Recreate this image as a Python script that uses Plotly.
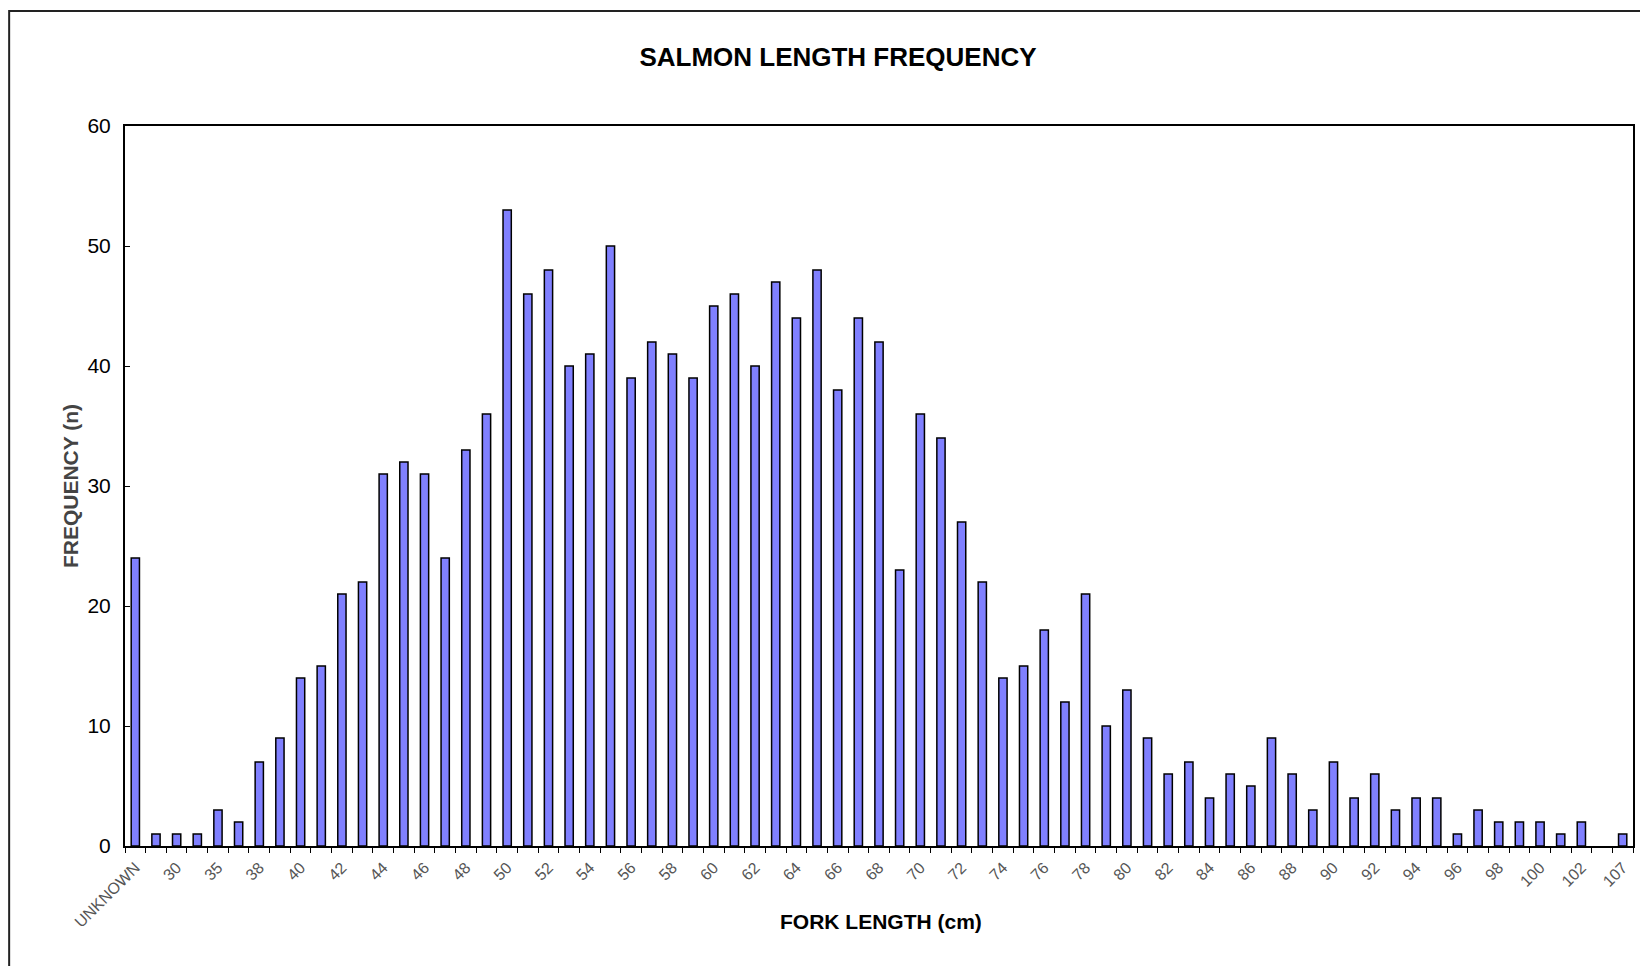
import plotly.graph_objects as go

# ---- data ----
categories = (["UNKNOWN", "25", "30", "33", "35", "37", "38", "39"]
              + [str(v) for v in range(40, 103)]
              + ["105", "107"])
frequency = [24, 1, 1, 1, 3, 2, 7, 9, 14, 15, 21, 22, 31, 32, 31, 24, 33, 36,
             53, 46, 48, 40, 41, 50, 39, 42, 41, 39, 45, 46, 40, 47, 44, 48,
             38, 44, 42, 23, 36, 34, 27, 22, 14, 15, 18, 12, 21, 10, 13, 9,
             6, 7, 4, 6, 5, 9, 6, 3, 7, 4, 6, 3, 4, 4, 1, 3, 2, 2, 2, 1, 2, 0, 1]
tick_labels = [c if i % 2 == 0 else "" for i, c in enumerate(categories)]
y_ticks = [0, 10, 20, 30, 40, 50, 60]

title_text = "SALMON LENGTH FREQUENCY"
x_title = "FORK LENGTH (cm)"
y_title = "FREQUENCY (n)"

FONT = "Liberation Sans, Arial, sans-serif"
OFF = 8  # page body margin
W, H = 1648 - 2 * OFF, 974 - 2 * OFF
# reference pixel positions (page coords)
PL, PR, PT, PB = 125, 1635, 126, 846
L, T = PL - OFF, PT - OFF
R, B = W - (PR - OFF), H - (PB - OFF)
pw, ph = PR - PL, PB - PT


def px_x(x):  # page x -> paper x
    return (x - PL) / pw


def px_y(y):  # page y -> paper y
    return (PB - y) / ph


# no outline on empty (zero) bars
outline_w = [1.5 if v > 0 else 0 for v in frequency]

fig = go.Figure(go.Bar(
    x=categories, y=frequency,
    marker=dict(color="#8080FF", line=dict(color="black", width=outline_w)),
))

fig.update_layout(
    width=W, height=H,
    margin=dict(l=L, r=R, t=T, b=B),
    paper_bgcolor="white", plot_bgcolor="white",
    bargap=0.6, showlegend=False,
    font=dict(family=FONT, color="black"),
    title=dict(text=f"<b>{title_text}</b>", x=(838 - OFF) / W, xanchor="center",
               y=1 - (57 - OFF) / H, yanchor="middle", yref="container",
               font=dict(size=26, family=FONT, color="black")),
)

fig.update_xaxes(
    type="category", tickmode="array", tickvals=categories, ticktext=tick_labels,
    tickson="boundaries", ticks="outside", ticklen=5, tickwidth=1.2, tickcolor="black",
    tickangle=-45, tickfont=dict(size=16, color="#555", family=FONT),
    showline=True, linecolor="black", linewidth=2, mirror=True,
    showgrid=False, zeroline=False, ticklabelstandoff=4,
)
fig.update_yaxes(
    range=[0, 60], tickvals=y_ticks, ticks="inside", ticklen=5, tickwidth=1.2,
    tickcolor="black", tickfont=dict(size=21, color="black", family=FONT),
    showline=True, linecolor="black", linewidth=2, mirror=True,
    showgrid=False, zeroline=False, ticklabelstandoff=8,
)

# axis titles
fig.add_annotation(text=f"<b>{x_title}</b>", xref="paper", yref="paper",
                   x=px_x(882), y=px_y(921), showarrow=False,
                   xanchor="center", yanchor="middle",
                   font=dict(size=21, family=FONT, color="black"))
fig.add_annotation(text=f"<b>{y_title}</b>", xref="paper", yref="paper",
                   x=px_x(70), y=0.5, showarrow=False, textangle=-90,
                   xanchor="center", yanchor="middle",
                   font=dict(size=21, family=FONT, color="#444"))

# outer chart border (cut off on right and bottom)
fig.add_shape(type="rect", xref="paper", yref="paper",
              x0=px_x(9), x1=px_x(1700),
              y0=px_y(1000), y1=px_y(11),
              line=dict(color="#222", width=2), fillcolor="rgba(0,0,0,0)", layer="below")

fig.write_html("out.html")
